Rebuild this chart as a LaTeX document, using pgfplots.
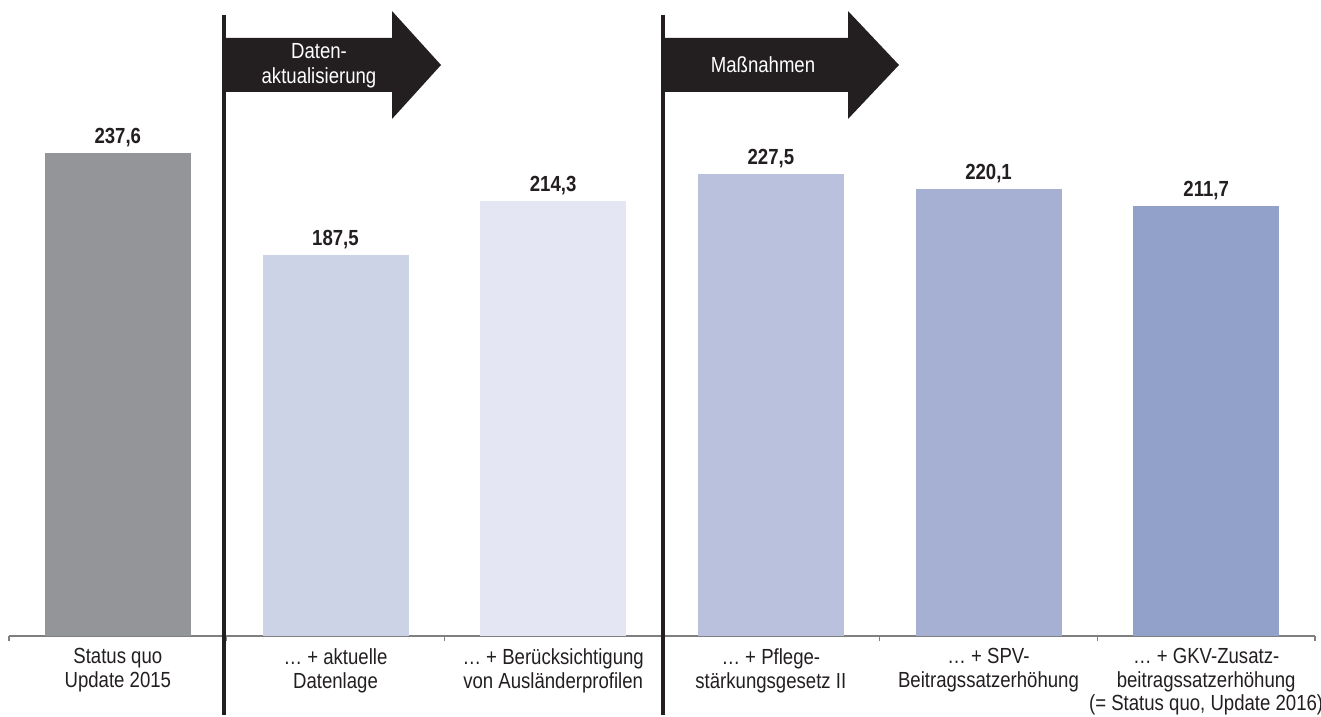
\documentclass[border=0pt]{standalone}
\usepackage{pgfplots}
\pgfplotsset{compat=1.18}
\usepackage{fontspec}
\setmainfont{Liberation Sans}[FakeStretch=0.85]
\definecolor{txt}{HTML}{231F20}
\definecolor{cA}{HTML}{939598}
\definecolor{cB}{HTML}{CDD3E7}
\definecolor{cC}{HTML}{E4E7F3}
\definecolor{cD}{HTML}{B9C1DC}
\definecolor{cE}{HTML}{A5B0D3}
\definecolor{cF}{HTML}{92A1CA}
\definecolor{axl}{HTML}{7F7F7F}
\newcommand{\lbl}{\fontsize{16.4}{17.6}\selectfont}
\begin{document}
\begin{tikzpicture}
\path[use as bounding box] (0pt,0pt) rectangle (990.75pt,-537.75pt);
\begin{axis}[
  at={(6.75pt,-477pt)}, anchor=south west,
  scale only axis, width=979.5pt, height=477pt,
  xmin=-0.5, xmax=5.5, ymin=0, ymax=313,
  axis x line*=bottom, axis y line=none,
  axis line style={-, axl, line width=1.1pt},
  ybar, bar width=109.5pt,
  xtick={0,...,5},
  xticklabels={{Status quo\\Update 2015},{\dots\ + aktuelle\\Datenlage},{\dots\ + Berücksichtigung\\von Ausländerprofilen},{\dots\ + Pflege-\\stärkungsgesetz II},{\dots\ + SPV-\\Beitragssatzerhöhung},{\dots\ + GKV-Zusatz-\\beitragssatzerhöhung\\(= Status quo, Update 2016)}},
  xticklabel style={align=center, font=\lbl, text=txt, anchor=north, yshift=-6pt},
  major tick length=0pt,
  minor xtick={-0.5,0.5,...,5.5},
  minor tick length=3.75pt,
  tick align=outside,
  minor tick style={axl, line width=0.8pt},
  ytick=\empty,
  clip=false,
  nodes near coords,
  every node near coord/.append style={font=\lbl\bfseries, text=txt, yshift=1pt},
  /pgf/number format/.cd, use comma, fixed, precision=1, fixed zerofill, assume math mode=true,
]
\addplot[fill=cA, draw=none, bar shift=0pt] coordinates {(0,237.6)};
\addplot[fill=cB, draw=none, bar shift=0pt] coordinates {(1,187.5)};
\addplot[fill=cC, draw=none, bar shift=0pt] coordinates {(2,214.3)};
\addplot[fill=cD, draw=none, bar shift=0pt] coordinates {(3,227.5)};
\addplot[fill=cE, draw=none, bar shift=0pt] coordinates {(4,220.1)};
\addplot[fill=cF, draw=none, bar shift=0pt] coordinates {(5,211.7)};
\end{axis}
% separators
\draw[txt, line width=3.6pt] (168pt,-11.25pt) -- (168pt,-536.25pt);
\draw[txt, line width=3.6pt] (497.25pt,-11.25pt) -- (497.25pt,-536.25pt);
% arrows
\fill[txt] (169.5pt,-28.5pt) -- (294pt,-28.5pt) -- (294pt,-8.25pt) -- (330.75pt,-48.75pt) -- (294pt,-89.25pt) -- (294pt,-69pt) -- (169.5pt,-69pt) -- cycle;
\fill[txt] (498.75pt,-28.5pt) -- (636pt,-28.5pt) -- (636pt,-8.25pt) -- (674.25pt,-48.75pt) -- (636pt,-89.25pt) -- (636pt,-69pt) -- (498.75pt,-69pt) -- cycle;
\node[white, font=\fontsize{16.4}{18.5}\selectfont, align=center] at (239.25pt,-49.5pt) {Daten-\\aktualisierung};
\node[white, font=\lbl, align=center] at (572.25pt,-48.75pt) {Maßnahmen};
\end{tikzpicture}
\end{document}
